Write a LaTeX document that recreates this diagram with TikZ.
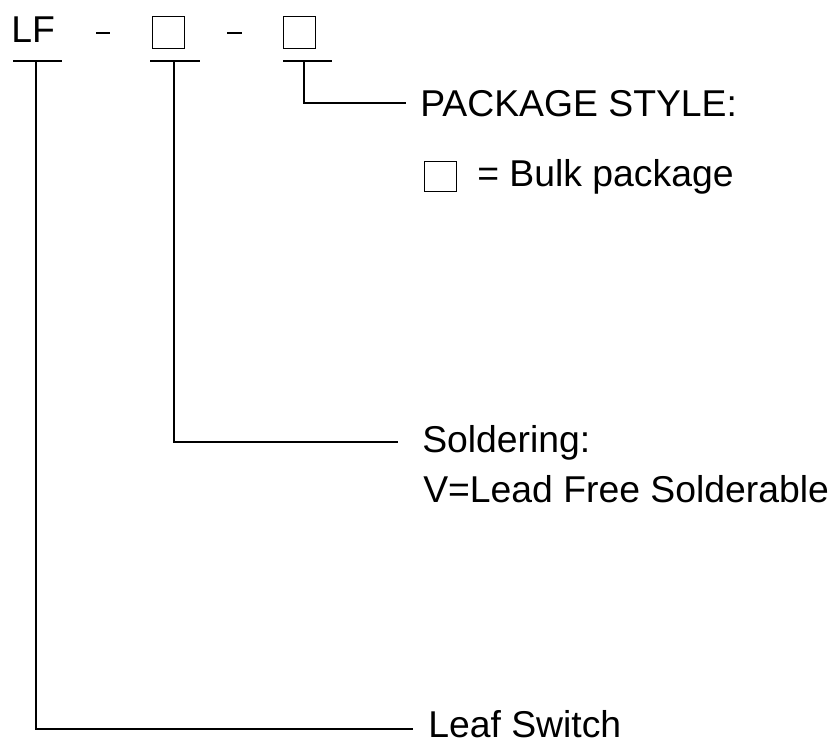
\documentclass[tikz,border=0pt]{standalone}
\usepackage{fontspec}
\setmainfont{Liberation Sans}
\usetikzlibrary{positioning}

\begin{document}
\begin{tikzpicture}[x=0.75pt, y=-0.75pt,
  lbl/.style={font=\fontsize{28}{33}\selectfont, inner sep=0pt, anchor=base west},
  sqbox/.style={draw, line width=0.9pt, minimum width=24pt, minimum height=24pt, inner sep=0pt},
  lead/.style={line width=1.4pt},
  dashline/.style={line width=0.8pt}]
  \useasboundingbox (0,0) rectangle (832,745);
  % part number
  \node[lbl] (LF) at (11,43) {LF};
  \node[sqbox] (box1) at (168.5,32.5) {};
  \node[sqbox] (box2) at (299.5,32.5) {};
  \draw[dashline] (96,33) -- (110,33);
  \draw[dashline] (227,33) -- (242,33);
  % underlines
  \draw[lead] (13,61) -- (62,61);
  \draw[lead] (150,61) -- (200,61);
  \draw[lead] (283,61) -- (332,61);
  \coordinate (t1) at (36,61);
  \coordinate (t2) at (174,61);
  \coordinate (t3) at (304,61);
  % labels
  \node[lbl] (pkg) at (420,117) {PACKAGE STYLE:};
  \node[sqbox, minimum height=23pt] (bulkbox) at (440.5,176.5) {};
  \node[lbl] (bulk) at (477,187) {= Bulk package};
  \node[lbl] (sold) at (422,452) {Soldering:};
  \node[lbl] (vlead) at (423,502) {V=Lead Free Solderable};
  \node[lbl] (leaf) at (428,737) {Leaf Switch};
  \coordinate (end3) at (406,103);
  \coordinate (end2) at (398,442);
  \coordinate (end1) at (413,729);
  % leaders
  \draw[lead] (t3) |- (end3);
  \draw[lead] (t2) |- (end2);
  \draw[lead] (t1) |- (end1);
\end{tikzpicture}
\end{document}
